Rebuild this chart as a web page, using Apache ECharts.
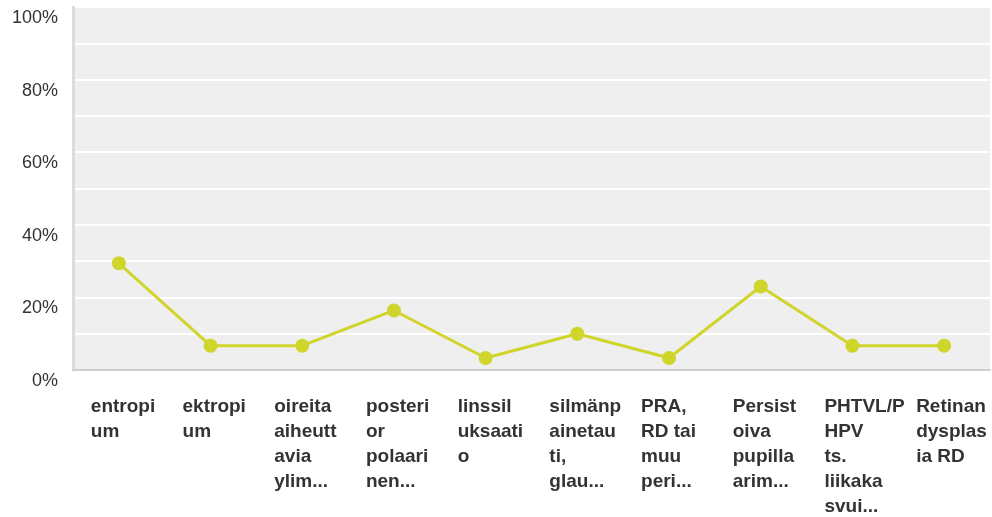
<!DOCTYPE html>
<html>
<head>
<meta charset="utf-8">
<script src="https://cdn.jsdelivr.net/npm/echarts@6/dist/echarts.min.js"></script>
<style>
  html, body { margin: 0; padding: 0; background: #fff; }
  #chart { width: 992px; height: 517px; }
</style>
</head>
<body>
<div id="chart"></div>
<script>
// kategoriat, rivitetty kuten kuvassa
var categories = [
  'entropi\num',
  'ektropi\num',
  'oireita\naiheutt\navia\nylim...',
  'posteri\nor\npolaari\nnen...',
  'linssil\nuksaati\no',
  'silmänp\nainetau\nti,\nglau...',
  'PRA,\nRD tai\nmuu\nperi...',
  'Persist\noiva\npupilla\narim...',
  'PHTVL/P\nHPV\nts.\nliikaka\nsvui...',
  'Retinan\ndysplas\nia RD'
];
var values = [29.4, 6.7, 6.7, 16.4, 3.3, 10, 3.3, 23, 6.7, 6.7];
var yTicks = [0, 20, 40, 60, 80, 100];

var chart = echarts.init(document.getElementById('chart'));
var option = {
  animation: false,
  textStyle: { fontFamily: 'Liberation Sans, Arial, sans-serif' },
  grid: { left: 73, top: 7, right: 2, bottom: 147, show: true, backgroundColor: '#efefef', borderWidth: 0 },
  xAxis: {
    type: 'category',
    data: categories,
    boundaryGap: true,
    axisLine: { show: true, lineStyle: { color: '#cfcfcf', width: 2 } },
    axisTick: { show: false },
    axisLabel: {
      interval: 0,
      margin: 24,
      formatter: function (v) { return '{a|' + v.split('\n').join('}\n{a|') + '}'; },
      rich: {
        a: { width: 56, align: 'left', fontSize: 19, fontWeight: 'bold', color: '#333', lineHeight: 25 }
      }
    },
    splitLine: { show: false }
  },
  yAxis: {
    type: 'value',
    min: 0,
    max: 100,
    interval: 10,
    axisLine: { show: true, lineStyle: { color: '#dcdcdc', width: 3 } },
    axisTick: { show: false },
    axisLabel: {
      margin: 15,
      fontSize: 18,
      color: '#333',
      verticalAlign: 'top',
      padding: [2, 0, 0, 0],
      formatter: function (v) { return yTicks.indexOf(v) >= 0 ? v + '%' : ''; }
    },
    splitLine: { show: true, lineStyle: { color: '#ffffff', width: 2 } }
  },
  series: [{
    type: 'line',
    data: values,
    symbol: 'circle',
    symbolSize: 14,
    lineStyle: { color: '#cfd52b', width: 3 },
    itemStyle: { color: '#cfd52b' }
  }]
};
chart.setOption(option);
</script>
</body>
</html>
